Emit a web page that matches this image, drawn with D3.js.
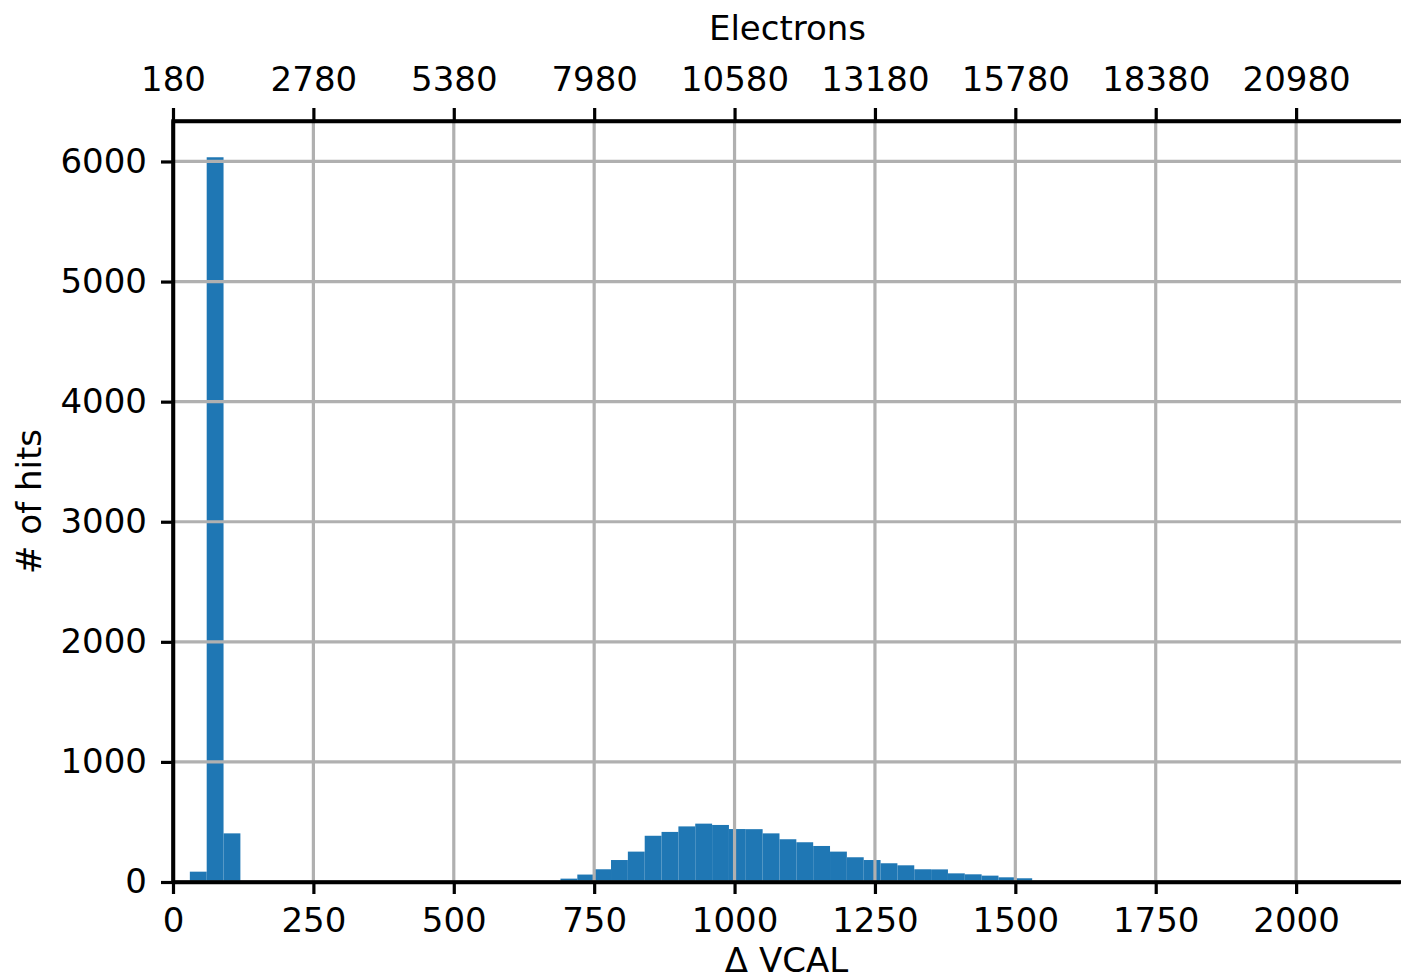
<!DOCTYPE html>
<html>
<head>
<meta charset="utf-8">
<script src="https://cdn.jsdelivr.net/npm/d3@7"></script>
<style>
  html, body { margin: 0; padding: 0; background: #fff; }
  svg { display: block; }
  text { font-family: "DejaVu Sans", sans-serif; fill: #000; }
</style>
</head>
<body>
<svg id="chart" width="1401" height="980"></svg>
<script>
// Histogram of hit charge: lower edge of each populated bin (ΔVCAL) and its count
const BIN_WIDTH = 30;
const binLeft = [30, 60, 90,
  690, 720, 750, 780, 810, 840, 870, 900, 930, 960, 990, 1020, 1050, 1080,
  1110, 1140, 1170, 1200, 1230, 1260, 1290, 1320, 1350, 1380, 1410, 1440, 1470, 1500];
const hits = [86, 6035, 405,
  28, 62, 106, 183, 253, 385, 417, 463, 486, 475, 441, 440, 405, 356,
  331, 300, 253, 206, 183, 156, 139, 106, 105, 72, 64, 53, 39, 31];

// Axis ticks
const vcalTicks = [0, 250, 500, 750, 1000, 1250, 1500, 1750, 2000];
const electronLabels = ["180", "2780", "5380", "7980", "10580", "13180", "15780", "18380", "20980"];
const hitTicks = [0, 1000, 2000, 3000, 4000, 5000, 6000];

const xDomain = [0, 2185];
const yDomain = [0, 6337];

const svg = d3.select("#chart");
const plotLeft = 173, plotRight = 1400, plotTop = 121, plotBottom = 882;
const FONT = 34;
const SPINE = 3.5;

const x = d3.scaleLinear().domain(xDomain).range([plotLeft, plotRight]);
const y = d3.scaleLinear().domain(yDomain).range([plotBottom, plotTop]);

const bins = binLeft.map((b, i) => ({ x0: b, x1: b + BIN_WIDTH, n: hits[i] }));

// Bars
svg.append("g")
  .selectAll("rect")
  .data(bins)
  .join("rect")
  .attr("x", d => x(d.x0))
  .attr("width", d => x(d.x1) - x(d.x0))
  .attr("y", d => y(d.n))
  .attr("height", d => y(0) - y(d.n))
  .attr("fill", "#1f77b4");

// Grid drawn above the bars
const grid = svg.append("g").attr("stroke", "#b0b0b0").attr("stroke-width", 3.2);
grid.selectAll("line.v")
  .data(vcalTicks)
  .join("line")
  .attr("class", "v")
  .attr("x1", d => x(d)).attr("x2", d => x(d))
  .attr("y1", plotTop).attr("y2", plotBottom);
grid.selectAll("line.h")
  .data(hitTicks)
  .join("line")
  .attr("class", "h")
  .attr("x1", plotLeft).attr("x2", plotRight + 2)
  .attr("y1", d => y(d)).attr("y2", d => y(d));

function styleAxis(g) {
  g.selectAll("path.domain").attr("stroke", "#000").attr("stroke-width", SPINE);
  g.selectAll(".tick line").attr("stroke", "#000").attr("stroke-width", 3.2);
  g.selectAll(".tick text")
    .attr("font-family", "DejaVu Sans, sans-serif")
    .attr("font-size", FONT)
    .attr("fill", "#000");
}

// Bottom axis: ΔVCAL
const xAxis = d3.axisBottom(x).tickValues(vcalTicks).tickFormat(d3.format("d"))
  .tickSize(12).tickSizeOuter(0).tickPadding(14);
svg.append("g").attr("transform", `translate(0,${plotBottom})`).call(xAxis).call(styleAxis);

// Top axis: the same positions expressed in electrons
const xTop = d3.axisTop(x).tickValues(vcalTicks)
  .tickFormat((d, i) => electronLabels[i])
  .tickSize(13).tickSizeOuter(0).tickPadding(17);
svg.append("g").attr("transform", `translate(0,${plotTop})`).call(xTop).call(styleAxis);

// Left axis: number of hits
const yAxis = d3.axisLeft(y).tickValues(hitTicks).tickFormat(d3.format("d"))
  .tickSize(12).tickSizeOuter(0).tickPadding(14);
svg.append("g").attr("transform", `translate(${plotLeft},0)`).call(yAxis).call(styleAxis);

// Spines running to the right edge
svg.append("line").attr("x1", plotLeft).attr("x2", 1401).attr("y1", plotBottom).attr("y2", plotBottom)
  .attr("stroke", "#000").attr("stroke-width", SPINE);
svg.append("line").attr("x1", plotLeft).attr("x2", 1401).attr("y1", plotTop).attr("y2", plotTop)
  .attr("stroke", "#000").attr("stroke-width", SPINE);
svg.append("line").attr("x1", plotLeft).attr("x2", plotLeft)
  .attr("y1", plotTop - SPINE / 2).attr("y2", plotBottom + SPINE / 2)
  .attr("stroke", "#000").attr("stroke-width", SPINE);

// Axis titles
svg.append("text")
  .attr("x", (plotLeft + plotRight) / 2 + 1).attr("y", 40)
  .attr("text-anchor", "middle").attr("font-size", FONT)
  .text("Electrons");
svg.append("text")
  .attr("x", (plotLeft + plotRight) / 2).attr("y", 972)
  .attr("text-anchor", "middle").attr("font-size", FONT)
  .text("Δ VCAL");
svg.append("text")
  .attr("transform", `translate(41,${(plotTop + plotBottom) / 2}) rotate(-90)`)
  .attr("text-anchor", "middle").attr("font-size", FONT)
  .text("# of hits");
</script>
</body>
</html>
